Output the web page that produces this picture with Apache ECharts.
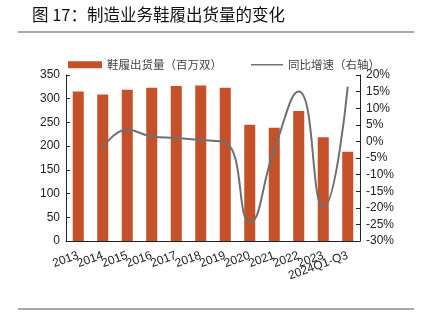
<!DOCTYPE html>
<html><head><meta charset="utf-8">
<script src="https://cdn.jsdelivr.net/npm/echarts@6/dist/echarts.min.js"></script>
<style>html,body{margin:0;padding:0;background:#fff}#c{width:422px;height:333px}</style>
</head><body><div id="c"></div>
<script>
const categories = ['2013','2014','2015','2016','2017','2018','2019','2020','2021','2022','2023','2024Q1-Q3'];
const shipments = [315, 309, 319, 323, 327, 328, 323, 245, 239, 274, 219, 188];
const yoyGrowth = [null, -2.0, 3.5, 1.5, 1.0, 0.4, -0.3, -24.3, -2.4, 15.0, -20.0, 16.5];
const leftTicks = {min: 0, max: 350, interval: 50};
const rightTicks = {min: -30, max: 20, interval: 5};
const titleText = '图 17：制造业务鞋履出货量的变化';
const barName = '鞋履出货量（百万双）';
const lineName = '同比增速（右轴）';

const FONT = '"Liberation Sans", Arial, "Noto Sans CJK SC", sans-serif';
const CJK = '"Noto Sans CJK SC", sans-serif';
const chart = echarts.init(document.getElementById('c'), null, {renderer: 'canvas'});
chart.setOption({
  animation: false,
  title: {text: titleText, left: 27, top: 1,
    textStyle: {fontSize: 16.5, fontWeight: 'normal', color: '#111', fontFamily: CJK}},
  graphic: [
    {type: 'line', shape: {x1: 18, y1: 32, x2: 414, y2: 32}, style: {stroke: '#555', lineWidth: 1}},
    {type: 'line', shape: {x1: 18, y1: 309, x2: 414, y2: 309}, style: {stroke: '#555', lineWidth: 1}}
  ],
  legend: [
    {left: 63, top: 54, itemWidth: 34, itemHeight: 7, itemGap: 4,
      textStyle: {fontSize: 11.5, color: '#444', fontFamily: CJK},
      data: [{name: barName, icon: 'rect'}]},
    {left: 246, top: 54, itemWidth: 32, itemHeight: 1.5, itemGap: 4,
      textStyle: {fontSize: 11.5, color: '#444', fontFamily: CJK},
      data: [{name: lineName, icon: 'rect'}]}
  ],
  grid: {left: 66, right: 62, top: 75, bottom: 92},
  xAxis: {type: 'category', data: categories,
    axisLine: {lineStyle: {color: '#222', width: 1}},
    axisTick: {inside: true, length: 4, lineStyle: {color: '#222'}},
    axisLabel: {rotate: 20, interval: 0, fontSize: 12, color: '#222', margin: 14, fontFamily: FONT}},
  yAxis: [
    {type: 'value', min: leftTicks.min, max: leftTicks.max, interval: leftTicks.interval,
      splitLine: {show: false},
      axisLine: {show: true, lineStyle: {color: '#222'}},
      axisTick: {show: true, inside: true, length: 4, lineStyle: {color: '#222'}},
      axisLabel: {fontSize: 12, color: '#222', margin: 6, fontFamily: FONT}},
    {type: 'value', min: rightTicks.min, max: rightTicks.max, interval: rightTicks.interval,
      splitLine: {show: false},
      axisLine: {show: true, lineStyle: {color: '#222'}},
      axisTick: {show: true, inside: true, length: 4, lineStyle: {color: '#222'}},
      axisLabel: {fontSize: 12, color: '#222', margin: 6, formatter: '{value}%', fontFamily: FONT}}
  ],
  series: [
    {name: barName, type: 'bar', data: shipments, barWidth: '45%', itemStyle: {color: '#C5512A'}},
    {name: lineName, type: 'line', yAxisIndex: 1, data: yoyGrowth, smooth: 0.5, symbol: 'none',
      connectNulls: false, lineStyle: {color: '#707070', width: 2}, itemStyle: {color: '#707070'}}
  ]
});
</script></body></html>
